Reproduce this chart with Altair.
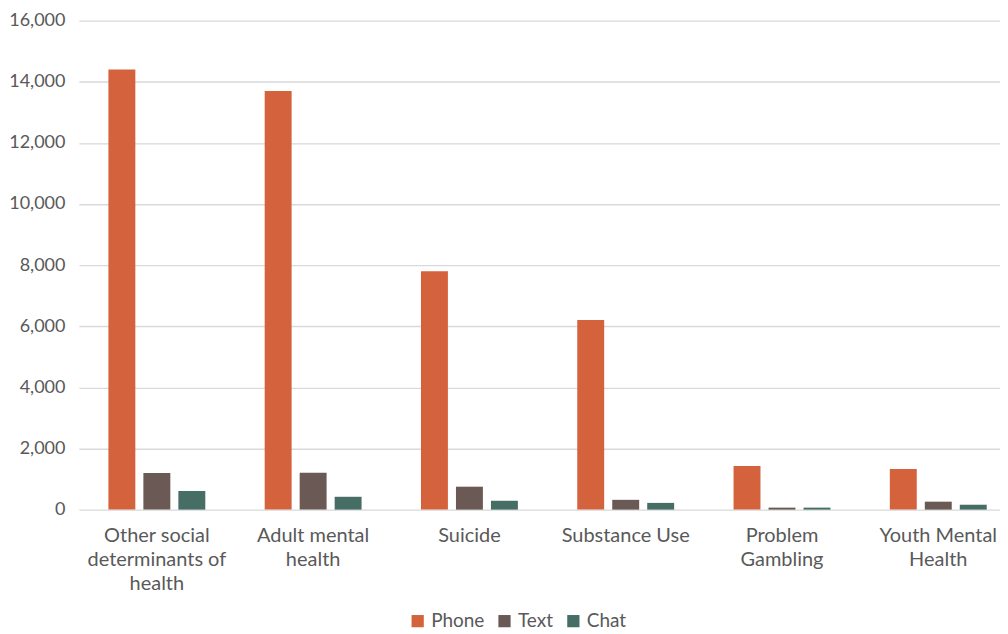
import altair as alt
import pandas as pd

categories = [
    "Other social|determinants of|health",
    "Adult mental|health",
    "Suicide",
    "Substance Use",
    "Problem|Gambling",
    "Youth Mental|Health",
]
series = ["Phone", "Text", "Chat"]
phone = [14400, 13700, 7800, 6200, 1430, 1330]
text = [1200, 1210, 750, 320, 65, 260]
chat = [610, 420, 290, 220, 65, 160]
colors = ["#D4623D", "#6A5955", "#466E65"]

rows = []
for i, c in enumerate(categories):
    for s, vals in zip(series, [phone, text, chat]):
        rows.append({"category": c, "series": s, "value": vals[i]})
df = pd.DataFrame(rows)

font = "Lato"
gray = "#595959"

chart = alt.Chart(df).mark_bar().encode(
    x=alt.X("category:N", sort=categories,
            scale=alt.Scale(paddingInner=0.38, paddingOuter=0.137, align=0.69),
            axis=alt.Axis(title=None, labelAngle=0, labelExpr="split(datum.label, '|')",
                          labelFontSize=20, labelColor=gray, labelFont=font,
                          labelLineHeight=24, labelPadding=16, ticks=False,
                          domain=False, labelBaseline="top")),
    xOffset=alt.XOffset("series:N", sort=series, scale=alt.Scale(paddingInner=0.23)),
    y=alt.Y("value:Q", scale=alt.Scale(domain=[0, 16000]),
            axis=alt.Axis(title=None, values=list(range(0, 16001, 2000)), format=",.0f",
                          labelFontSize=18, labelColor=gray, labelFont=font,
                          labelPadding=14, ticks=False, domain=False,
                          gridColor="#D9D9D9", gridWidth=1.3)),
    color=alt.Color("series:N", sort=series,
                    scale=alt.Scale(domain=series, range=colors),
                    legend=alt.Legend(title=None, orient="none", direction="horizontal",
                                      legendX=330, legendY=592, symbolType="square",
                                      symbolSize=150, labelFontSize=19, labelColor=gray,
                                      labelFont=font, columnPadding=10, symbolStrokeWidth=0)),
).properties(
    width=923, height=490, padding={"left": 0, "top": 3, "right": 0, "bottom": 0}
).configure_view(stroke=None)

chart.save("out.html", embed_options={"renderer": "svg", "actions": False})
